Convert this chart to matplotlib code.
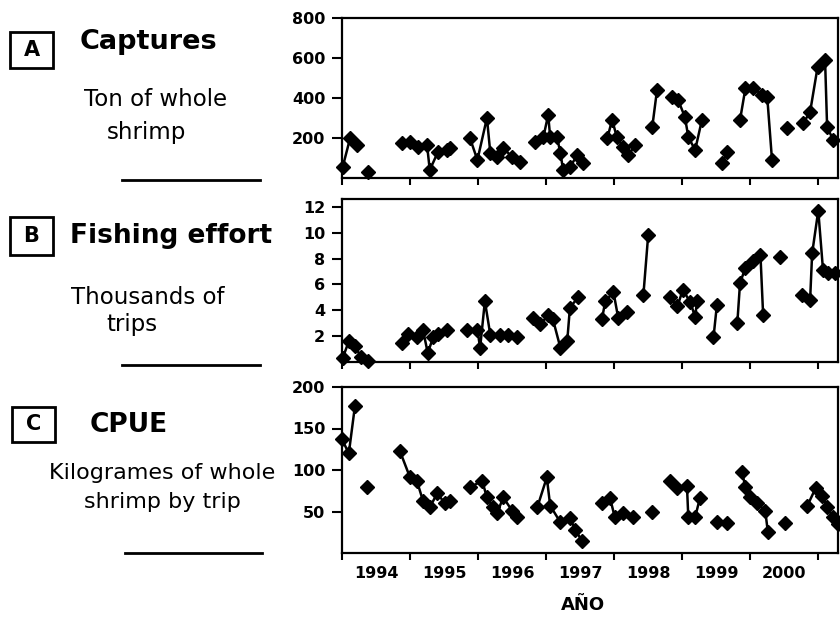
import numpy as np
import matplotlib
matplotlib.use('Agg')
import matplotlib.pyplot as plt
from matplotlib.patches import Rectangle
from matplotlib.lines import Line2D

nan = np.nan

# captures (ton of whole shrimp), decimal year
capt_x = [1994.01, 1994.12, 1994.22, nan, 1994.38, nan,
          1994.88, 1995.00, 1995.12, 1995.25, 1995.29, 1995.41, 1995.54, 1995.59, nan,
          1995.88, 1995.99, 1996.13, 1996.18, 1996.28, 1996.37, 1996.50, 1996.62, nan,
          1996.84, 1996.96, 1997.03, 1997.06, 1997.16, 1997.21, 1997.25, 1997.35, 1997.46, 1997.54, nan,
          1997.90, 1997.97, 1998.04, 1998.13, 1998.21, 1998.31, nan,
          1998.56, 1998.63, nan,
          1998.85, 1998.94, 1999.04, 1999.09, 1999.19, 1999.29, nan,
          1999.59, 1999.66, nan,
          1999.85, 1999.93, 2000.04, 2000.18, 2000.25, 2000.32, nan,
          2000.54, nan,
          2000.78, 2000.88, 2000.99, 2001.10, 2001.13, 2001.22]
capt_y = [55, 200, 165, nan, 30, nan,
          175, 180, 155, 165, 40, 130, 140, 150, nan,
          200, 90, 300, 125, 105, 150, 105, 80, nan,
          180, 205, 315, 205, 205, 125, 40, 55, 115, 75, nan,
          200, 290, 205, 155, 115, 165, nan,
          255, 440, nan,
          405, 390, 305, 205, 140, 290, nan,
          75, 130, nan,
          290, 450, 450, 415, 405, 90, nan,
          250, nan,
          275, 330, 555, 590, 255, 190]

# fishing effort (thousands of trips)
eff_x = [1994.01, 1994.10, 1994.19, 1994.28, 1994.38, nan,
         1994.88, 1994.97, 1995.10, 1995.19, 1995.26, 1995.34, 1995.41, 1995.54, nan,
         1995.84, 1995.99, 1996.03, 1996.10, 1996.18, 1996.32, 1996.44, 1996.57, nan,
         1996.81, 1996.91, 1997.03, 1997.10, 1997.21, 1997.31, 1997.35, 1997.47, nan,
         1997.82, 1997.87, 1997.99, 1998.06, 1998.19, nan,
         1998.43, 1998.50, nan,
         1998.82, 1998.93, 1999.01, 1999.12, 1999.19, 1999.22, nan,
         1999.46, 1999.51, nan,
         1999.81, 1999.85, 1999.93, 2000.04, 2000.15, 2000.19, nan,
         2000.44, nan,
         2000.76, 2000.88, 2000.91, 2001.00, 2001.07, 2001.15, 2001.25]
eff_y = [0.3, 1.6, 1.2, 0.4, 0.1, nan,
         1.5, 2.2, 1.9, 2.5, 0.7, 1.9, 2.2, 2.5, nan,
         2.5, 2.5, 1.1, 4.7, 2.1, 2.1, 2.1, 1.9, nan,
         3.4, 2.9, 3.6, 3.3, 1.1, 1.6, 4.2, 5.0, nan,
         3.3, 4.7, 5.4, 3.4, 3.9, nan,
         5.2, 9.8, nan,
         5.0, 4.3, 5.6, 4.6, 3.5, 4.7, nan,
         1.9, 4.4, nan,
         3.0, 6.1, 7.3, 7.8, 8.3, 3.6, nan,
         8.1, nan,
         5.2, 4.8, 8.4, 11.7, 7.1, 6.9, 6.9]

# CPUE (kg of whole shrimp by trip)
cpue_x = [1994.00, 1994.10, 1994.19, nan, 1994.37, nan,
          1994.85, 1995.00, 1995.10, 1995.19, 1995.29, 1995.40, 1995.51, 1995.59, nan,
          1995.88, 1996.06, 1996.13, 1996.22, 1996.28, 1996.37, 1996.50, 1996.57, nan,
          1996.87, 1997.01, 1997.06, 1997.21, 1997.35, 1997.43, 1997.53, nan,
          1997.82, 1997.94, 1998.01, 1998.13, 1998.28, nan,
          1998.56, nan,
          1998.82, 1998.93, 1999.07, 1999.09, 1999.19, 1999.26, nan,
          1999.51, 1999.66, nan,
          1999.88, 1999.93, 2000.00, 2000.10, 2000.22, 2000.26, nan,
          2000.51, nan,
          2000.84, 2000.96, 2001.06, 2001.13, 2001.22, 2001.29]
cpue_y = [137, 120, 177, nan, 79, nan,
          123, 91, 87, 63, 55, 72, 60, 63, nan,
          79, 87, 67, 55, 48, 67, 51, 43, nan,
          55, 91, 57, 37, 42, 28, 14, nan,
          60, 66, 43, 48, 43, nan,
          49, nan,
          87, 78, 81, 43, 43, 66, nan,
          37, 36, nan,
          97, 79, 67, 60, 51, 25, nan,
          36, nan,
          57, 78, 69, 55, 43, 35]

years = [1994, 1995, 1996, 1997, 1998, 1999, 2000, 2001]
year_labels = ['1994', '1995', '1996', '1997', '1998', '1999', '2000']

W, H = 840, 623
fig = plt.figure(figsize=(8.4, 6.23), dpi=100)


def fx(x):
    return x / W


def fy(y):
    return 1 - y / H


def panel(top, bottom):
    return fig.add_axes([fx(342), fy(bottom), fx(838) - fx(342), fy(top) - fy(bottom)])


ax_a = panel(18, 178)
ax_b = panel(199, 362)
ax_c = panel(387, 553)

setup = [
    (ax_a, capt_x, capt_y, (0, 800), [200, 400, 600, 800]),
    (ax_b, eff_x, eff_y, (0, 12.6), [2, 4, 6, 8, 10, 12]),
    (ax_c, cpue_x, cpue_y, (0, 200), [50, 100, 150, 200]),
]

for ax, x, y, lim, ticks in setup:
    ax.plot(x, y, color='black', lw=1.8, marker='D', ms=7.5, clip_on=False)
    ax.set_xlim(1994, 2001.29)
    ax.set_ylim(*lim)
    ax.set_xticks(years)
    ax.set_xticklabels([])
    ax.set_yticks(ticks, labels=[str(t) for t in ticks], fontweight='bold', fontsize=11.5)
    ax.tick_params(axis='x', direction='out', length=5, width=1.5)
    ax.tick_params(axis='y', direction='out', length=7, width=1.5, pad=5)
    for s in ax.spines.values():
        s.set_linewidth(1.6)

ax_c.set_xticks([y + 0.5 for y in years[:-1]], minor=True)
ax_c.set_xticklabels(year_labels, minor=True, fontweight='bold', fontsize=11.5)
ax_c.tick_params(axis='x', which='minor', length=0, pad=9)

fig.text(fx(583), fy(605), 'AÑO', ha='center', va='center', fontsize=13, fontweight='bold')

# left-hand labels
boxes = [('A', 10, 32, 53, 68), ('B', 10, 217, 53, 255), ('C', 12, 407, 55, 442)]
for letter, x0, y0, x1, y1 in boxes:
    fig.add_artist(Rectangle((fx(x0), fy(y1)), fx(x1) - fx(x0), fy(y0) - fy(y1),
                             transform=fig.transFigure, fill=False, lw=2, ec='black'))
    fig.text(fx((x0 + x1) / 2), fy((y0 + y1) / 2), letter, ha='center', va='center',
             fontsize=15, fontweight='bold')

fig.text(fx(80), fy(42), 'Captures', ha='left', va='center', fontsize=19.5, fontweight='bold')
fig.text(fx(156), fy(100), 'Ton of whole', ha='center', va='center', fontsize=16.5)
fig.text(fx(147), fy(132), 'shrimp', ha='center', va='center', fontsize=16.5)

fig.text(fx(70), fy(236), 'Fishing effort', ha='left', va='center', fontsize=19, fontweight='bold')
fig.text(fx(148), fy(297), 'Thousands of', ha='center', va='center', fontsize=16.5)
fig.text(fx(132), fy(325), 'trips', ha='center', va='center', fontsize=16.5)

fig.text(fx(90), fy(425), 'CPUE', ha='left', va='center', fontsize=19, fontweight='bold')
fig.text(fx(162), fy(473), 'Kilogrames of whole', ha='center', va='center', fontsize=16)
fig.text(fx(162), fy(502), 'shrimp by trip', ha='center', va='center', fontsize=16)

for x0, x1, yy in [(122, 260, 180), (122, 260, 365), (125, 262, 553)]:
    fig.add_artist(Line2D([fx(x0), fx(x1)], [fy(yy), fy(yy)], transform=fig.transFigure,
                          color='black', lw=2))

fig.savefig('out.png', dpi=100)
